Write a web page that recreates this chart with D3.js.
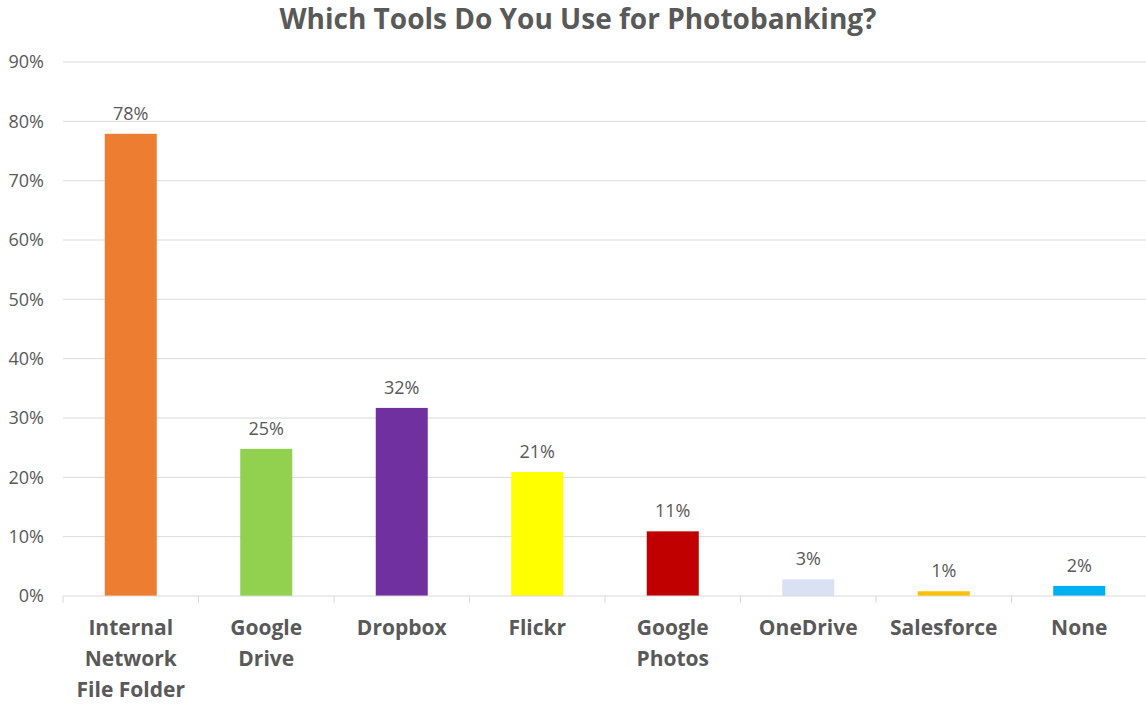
<!DOCTYPE html>
<html>
<head>
<meta charset="utf-8">
<script src="https://cdn.jsdelivr.net/npm/d3@7"></script>
<style>
  body { margin: 0; background: #fff; }
  svg text { font-family: "Open Sans", "Noto Sans", sans-serif; fill: #595959; }
</style>
</head>
<body>
<svg id="chart" width="1146" height="704"></svg>
<script>
// chart data
var categories = ["Internal Network File Folder", "Google Drive", "Dropbox", "Flickr",
                  "Google Photos", "OneDrive", "Salesforce", "None"];
var catLines = [["Internal", "Network", "File Folder"], ["Google", "Drive"], ["Dropbox"], ["Flickr"],
                ["Google", "Photos"], ["OneDrive"], ["Salesforce"], ["None"]];
var values = [0.779, 0.248, 0.317, 0.209, 0.109, 0.028, 0.008, 0.017];
var barColors = ["#ED7D31", "#92D050", "#7030A0", "#FFFF00", "#C00000", "#D9E1F2", "#FFC000", "#00B0F0"];
var yTicks = [0, 0.1, 0.2, 0.3, 0.4, 0.5, 0.6, 0.7, 0.8, 0.9];

var svg = d3.select("#chart");
var margin = {left: 63, right: -1, top: 62, bottom: 108};
var W = 1146, H = 704;

var x = d3.scaleBand()
  .domain(categories)
  .range([margin.left, W - margin.right])
  .paddingInner(0).paddingOuter(0);

var y = d3.scaleLinear()
  .domain([0, 0.9])
  .range([H - margin.bottom, margin.top]);

// title
svg.append("text")
  .attr("x", 578).attr("y", 29)
  .attr("text-anchor", "middle")
  .style("font-size", "28px").style("font-weight", "bold")
  .text("Which Tools Do You Use for Photobanking?");

// gridlines
svg.append("g").selectAll("line")
  .data(yTicks.slice(1))
  .enter().append("line")
    .attr("x1", margin.left).attr("x2", W)
    .attr("y1", function(d) { return y(d); })
    .attr("y2", function(d) { return y(d); })
    .attr("stroke", "#D9D9D9").attr("stroke-width", 1);

// y labels
svg.append("g").selectAll("text")
  .data(yTicks)
  .enter().append("text")
    .attr("x", 44)
    .attr("y", function(d) { return y(d); })
    .attr("dy", "0.35em")
    .attr("text-anchor", "end")
    .style("font-size", "18px")
    .text(d3.format(".0%"));

// bars
var bw = 52;
svg.append("g").selectAll("rect")
  .data(values)
  .enter().append("rect")
    .attr("x", function(d, i) { return x(categories[i]) + x.bandwidth() / 2 - bw / 2; })
    .attr("width", bw)
    .attr("y", function(d) { return y(d); })
    .attr("height", function(d) { return y(0) - y(d); })
    .attr("fill", function(d, i) { return barColors[i]; });

// value labels
svg.append("g").selectAll("text")
  .data(values)
  .enter().append("text")
    .attr("x", function(d, i) { return x(categories[i]) + x.bandwidth() / 2; })
    .attr("y", function(d) { return y(d) - 14; })
    .attr("text-anchor", "middle")
    .style("font-size", "18px")
    .text(d3.format(".0%"));

// x axis line + ticks between categories
svg.append("line")
  .attr("x1", margin.left).attr("x2", W)
  .attr("y1", y(0)).attr("y2", y(0))
  .attr("stroke", "#D9D9D9");

svg.append("g").selectAll("line")
  .data(d3.range(categories.length + 1))
  .enter().append("line")
    .attr("x1", function(i) { return margin.left + i * x.step(); })
    .attr("x2", function(i) { return margin.left + i * x.step(); })
    .attr("y1", y(0)).attr("y2", y(0) + 7)
    .attr("stroke", "#D9D9D9");

// category labels
var cat = svg.append("g").selectAll("text")
  .data(catLines)
  .enter().append("text")
    .attr("x", function(d, i) { return x(categories[i]) + x.bandwidth() / 2; })
    .attr("y", 635)
    .attr("text-anchor", "middle")
    .style("font-size", "21px").style("font-weight", "bold");

cat.selectAll("tspan")
  .data(function(d) { return d; })
  .enter().append("tspan")
    .attr("x", function() { return d3.select(this.parentNode).attr("x"); })
    .attr("dy", function(d, j) { return j == 0 ? 0 : 31; })
    .text(function(d) { return d; });
</script>
</body>
</html>
